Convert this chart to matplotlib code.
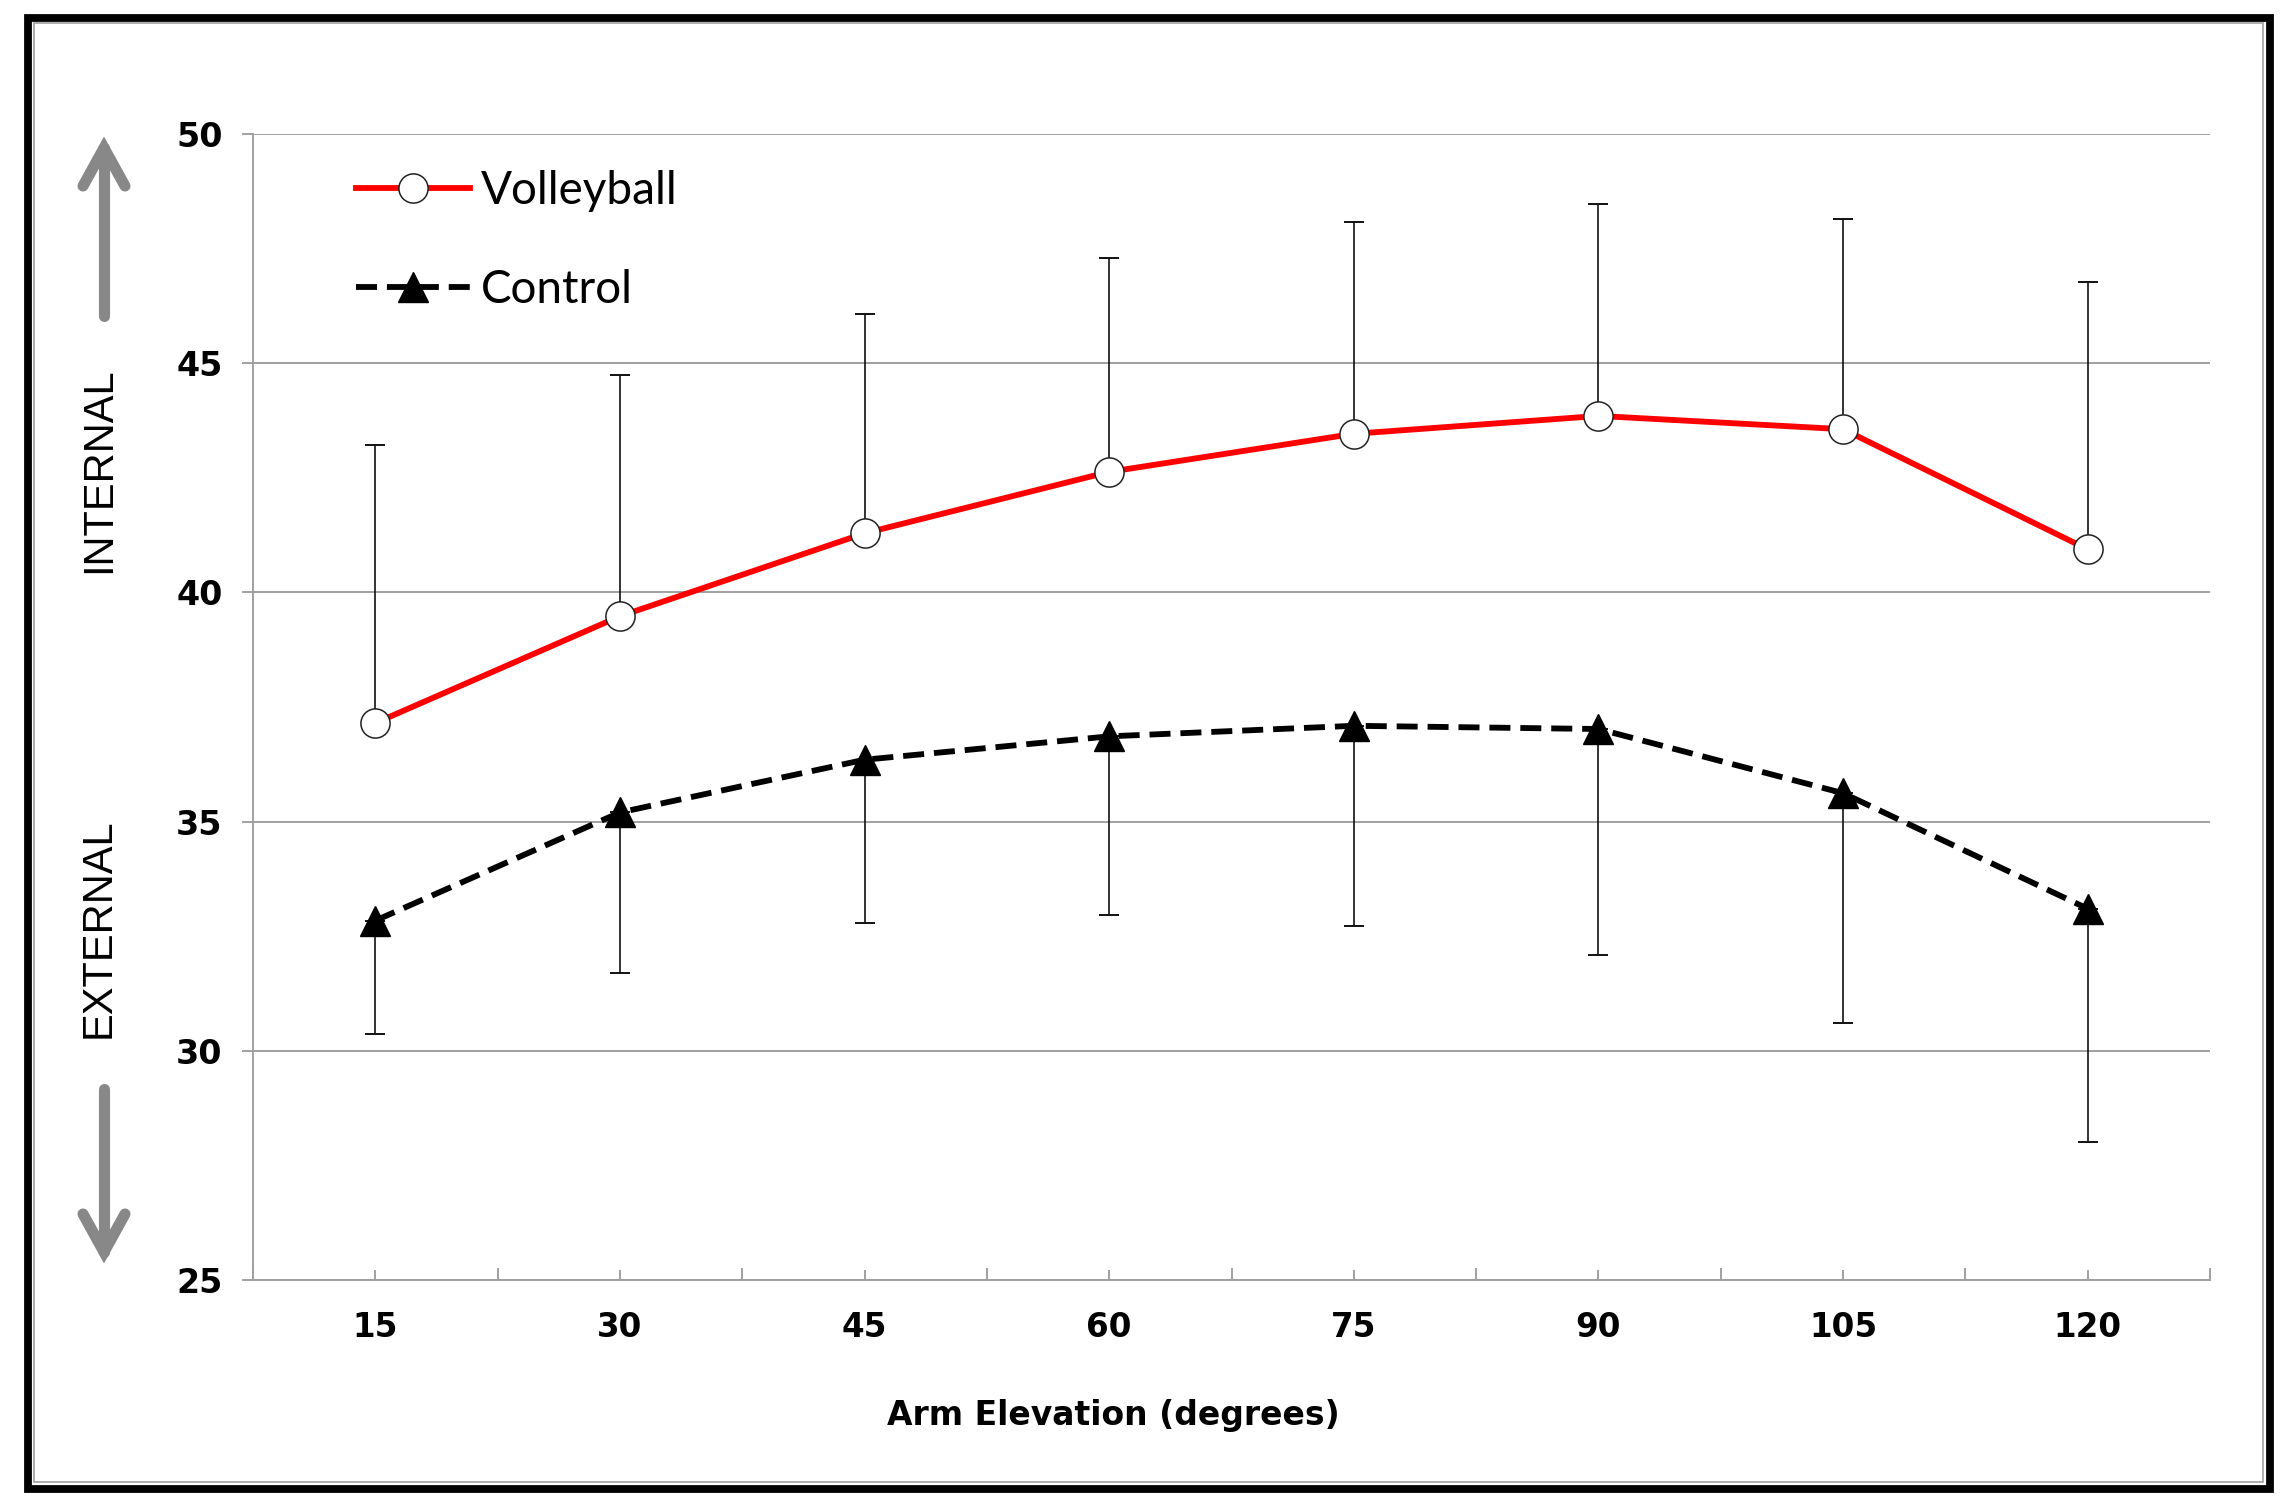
import matplotlib
matplotlib.use("Agg")
import matplotlib.pyplot as plt
from matplotlib.lines import Line2D
from matplotlib.patches import Rectangle
import numpy as np

# ---------------- data ----------------
angles = [15, 30, 45, 60, 75, 90, 105, 120]
vb_mean = [37.15, 39.48, 41.29, 42.63, 43.46, 43.85, 43.56, 40.94]
vb_upper = [43.21, 44.74, 46.08, 47.29, 48.09, 48.47, 48.15, 46.78]
ct_mean = [32.84, 35.20, 36.35, 36.86, 37.09, 37.02, 35.62, 33.10]
ct_lower = [30.36, 31.70, 32.78, 32.97, 32.72, 32.08, 30.61, 28.00]
y_ticks = [25, 30, 35, 40, 45, 50]
series_names = ["Volleyball", "Control"]

W, H = 2287, 1505
fig = plt.figure(figsize=(W / 100, H / 100), dpi=100)
fig.patch.set_facecolor("white")

def fx(px):
    return px / W

def fy(py):
    return 1 - py / H

ax_l, ax_r, ax_t, ax_b = 253, 2210, 134, 1280
ax = fig.add_axes([fx(ax_l), fy(ax_b), fx(ax_r) - fx(ax_l), fy(ax_t) - fy(ax_b)])

xpos = np.arange(1, len(angles) + 1)
grid_c = "#a0a0a0"

# gridlines
for yv in y_ticks:
    ax.axhline(yv, color=grid_c, lw=1.4, zorder=0)

# error bars
vb_err = [np.zeros(len(vb_mean)), np.array(vb_upper) - np.array(vb_mean)]
ct_err = [np.array(ct_mean) - np.array(ct_lower), np.zeros(len(ct_mean))]
ax.errorbar(xpos, vb_mean, yerr=vb_err, fmt="none", ecolor="#111111",
            elinewidth=1.2, capsize=7.5, capthick=1.4, zorder=2)
ax.errorbar(xpos, ct_mean, yerr=ct_err, fmt="none", ecolor="#111111",
            elinewidth=1.2, capsize=7.5, capthick=1.4, zorder=2)

# lines
ax.plot(xpos, vb_mean, color="#ff0000", lw=4.2, marker="o", markersize=21,
        markerfacecolor="white", markeredgecolor="#222222", markeredgewidth=1.1,
        zorder=4, label=series_names[0])
ax.plot(xpos, ct_mean, color="black", lw=4.2, dashes=(3.6, 1.7), marker="^",
        markersize=22, markerfacecolor="black", markeredgecolor="black",
        zorder=3, label=series_names[1])

ax.set_xlim(0.5, len(angles) + 0.5)
ax.set_ylim(25, 50)

# spines
for s in ["top", "right"]:
    ax.spines[s].set_visible(False)
for s in ["left", "bottom"]:
    ax.spines[s].set_color(grid_c)
    ax.spines[s].set_linewidth(1.4)

# ticks
ax.set_yticks(y_ticks)
ax.set_yticklabels([str(v) for v in y_ticks])
ax.tick_params(axis="y", direction="out", length=8, width=1.4, color=grid_c,
               pad=14, labelsize=24)
ax.set_xticks(xpos)
ax.set_xticklabels([str(a) for a in angles])
ax.set_xticks(np.arange(0.5, len(angles) + 1, 1.0), minor=True)
ax.tick_params(axis="x", which="major", direction="in", length=7, width=1.4,
               color=grid_c, pad=22, labelsize=23.5)
ax.tick_params(axis="x", which="minor", direction="in", length=9, width=1.4,
               color=grid_c)
for lab in ax.get_xticklabels() + ax.get_yticklabels():
    lab.set_fontweight("bold")
    lab.set_family("DejaVu Sans")

# legend
leg = ax.legend(loc="upper left", bbox_to_anchor=(fx(356), fy(170)),
                bbox_transform=fig.transFigure, frameon=False,
                prop={"family": "Lato", "size": 33}, handlelength=2.49,
                handletextpad=0.24, labelspacing=1.24, borderpad=0,
                borderaxespad=0)

# x label
fig.text(fx(1113), fy(1415), "Arm Elevation (degrees)", ha="center", va="center",
         fontsize=23.8, fontweight="bold", family="DejaVu Sans")

# side labels
fig.text(fx(99), fy(470), "INTERNAL", rotation=90, ha="center", va="center",
         fontsize=30, family="Liberation Sans")
fig.text(fx(99), fy(928), "EXTERNAL", rotation=90, ha="center", va="center",
         fontsize=30, family="Liberation Sans")

# arrows
arrow_c = "#888888"
def arrow(x, y_tail, y_tip, direction):
    hl, hw = 38, 21
    kw = dict(color=arrow_c, lw=8, solid_capstyle="round", transform=fig.transFigure)
    fig.add_artist(Line2D([fx(x), fx(x)], [fy(y_tail), fy(y_tip)], **kw))
    back = y_tip + hl * direction
    fig.add_artist(Line2D([fx(x - hw), fx(x), fx(x + hw)], [fy(back), fy(y_tip), fy(back)],
                          solid_joinstyle="miter", **kw))

arrow(104, 316, 148, 1)
arrow(104, 1089, 1252, -1)

# outer border
fig.add_artist(Rectangle((fx(28), fy(1488.5)), fx(2269.5) - fx(28), fy(17.5) - fy(1488.5),
                         transform=fig.transFigure, fill=False, edgecolor="black", lw=5.6))
fig.add_artist(Rectangle((fx(34), fy(1482)), fx(2263) - fx(34), fy(23) - fy(1482),
                         transform=fig.transFigure, fill=False, edgecolor="#a0a0a0", lw=1.2))

fig.savefig("out.png", dpi=100, facecolor="white")
